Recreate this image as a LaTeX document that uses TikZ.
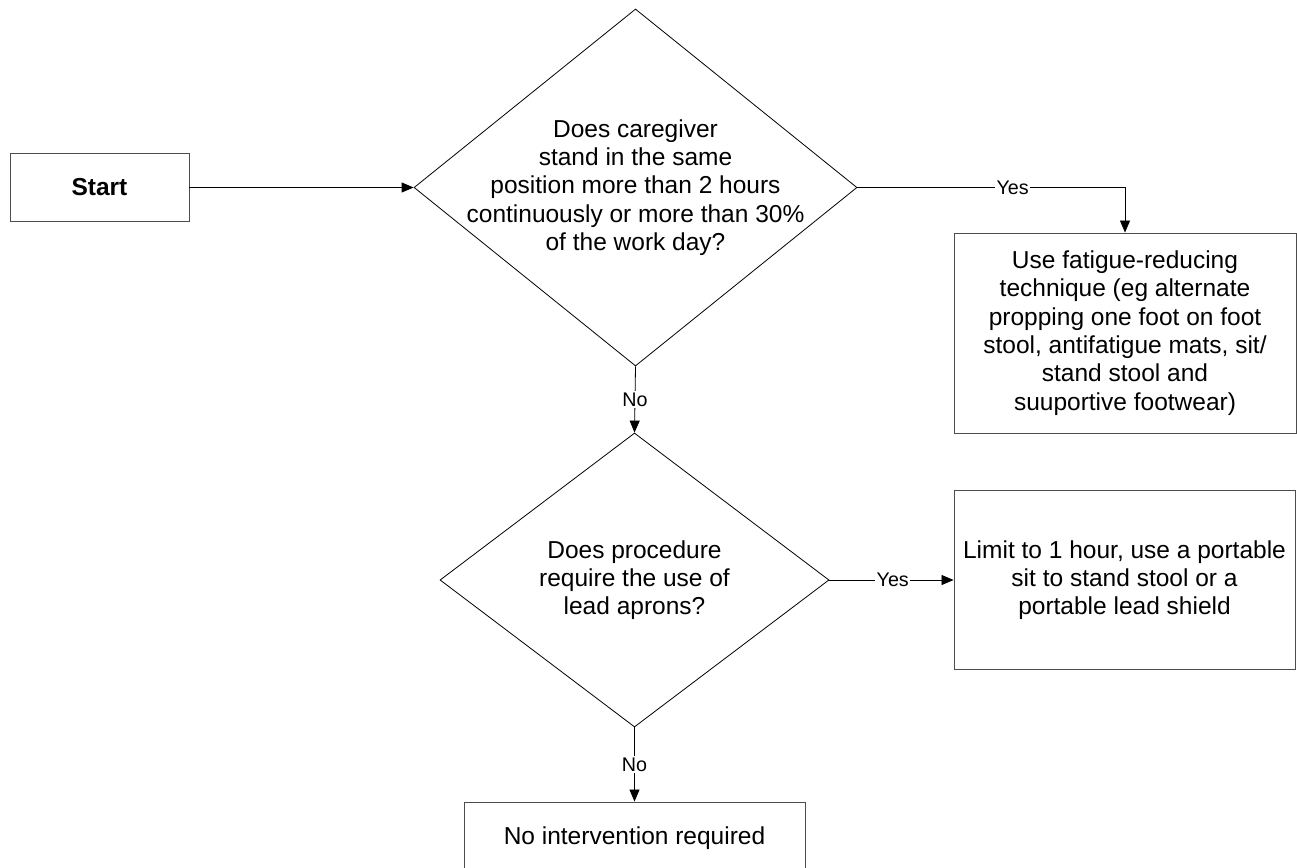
\documentclass[tikz,border=0pt]{standalone}
\usepackage{fontspec}
\setmainfont{Liberation Sans}
\usetikzlibrary{shapes.geometric,arrows.meta}
\newcommand\mainfs{\fontsize{24.5}{28.3}\selectfont}
\newcommand\lblfs{\fontsize{19.7}{23}\selectfont}
\begin{document}
\begin{tikzpicture}[x=1pt,y=-1pt,
  box/.style={draw=black!70, line width=0.9pt, rectangle, inner sep=0pt, align=center, font=\mainfs},
  dia/.style={draw=black, line width=0.8pt, diamond, inner sep=0pt},
  dtext/.style={align=center, font=\mainfs, inner sep=0pt},
  conn/.style={draw=black, line width=0.8pt, -{Triangle[length=12pt,width=10pt]}},
  lbl/.style={fill=white, inner sep=1.5pt, font=\lblfs}]
\clip (0,0) rectangle (1297,867);
\fill[white] (0,0) rectangle (1297,867);
\node[box, minimum width=179, minimum height=68, font=\mainfs\bfseries] (start) at (99.5,187.5) {Start};
\node[dia, minimum width=443, minimum height=357] (d1) at (635.5,187.5) {};
\node[dtext] (t1) at (d1.center) {Does caregiver\\stand in the same\\position more than 2 hours\\continuously or more than 30\%\\of the work day?};
\node[box, minimum width=342, minimum height=200] (fat) at (1125,333) {Use fatigue-reducing\\technique (eg alternate\\propping one foot on foot\\stool, antifatigue mats, sit/\\stand stool and\\suuportive footwear)};
\node[dia, minimum width=389, minimum height=294] (d2) at (634.5,580) {};
\node[dtext] (t2) at (d2.center) {Does procedure\\require the use of\\lead aprons?};
\node[box, minimum width=341, minimum height=179] (lim) at (1124.5,580) {Limit to 1 hour, use a portable\\sit to stand stool or a\\portable lead shield};
\node[box, minimum width=341, minimum height=72] (none) at (634.5,838) {\raisebox{4pt}{No intervention required}};
\draw[conn] (start.east) -- (d1.west);
\draw[conn] (d1.east) -- node[lbl,pos=0.58]{Yes} (d1.east -| fat.north) -- (fat.north);
\draw[conn] (d1.south) -- node[lbl]{No} (d2.north);
\draw[conn] (d2.east) -- node[lbl,pos=0.51]{Yes} (lim.west);
\draw[conn] (d2.south) -- node[lbl]{No} (none.north);
\end{tikzpicture}
\end{document}
